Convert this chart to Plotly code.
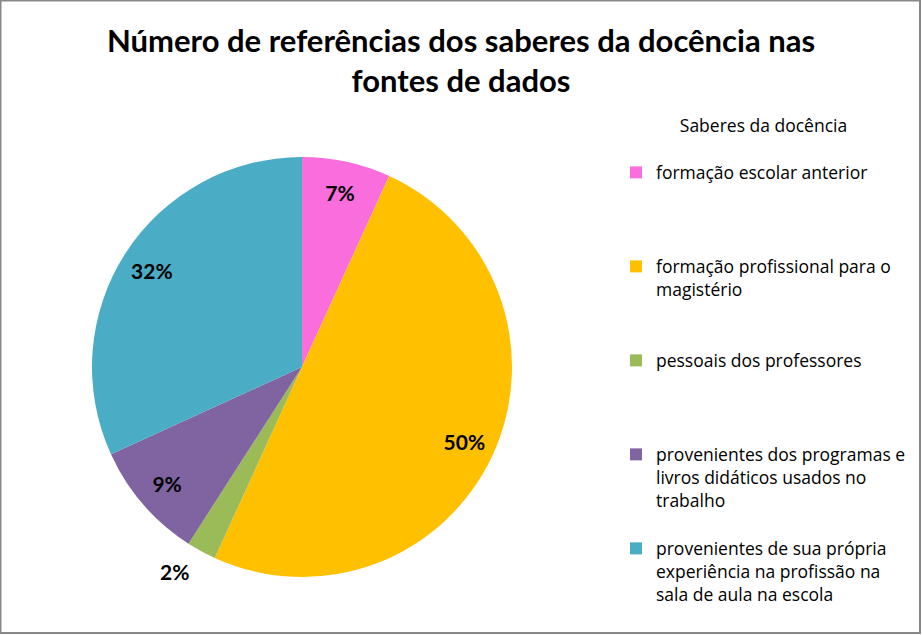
import plotly.graph_objects as go

# Data
categories = [
    "formação escolar anterior",
    "formação profissional para o<br>magistério",
    "pessoais dos professores",
    "provenientes dos programas e<br>livros didáticos usados no<br>trabalho",
    "provenientes de sua própria<br>experiência na profissão na<br>sala de aula na escola",
]
references = [3, 22, 1, 4, 14]
colors = ["#F96EDC", "#FFC000", "#9BBB59", "#8064A2", "#4BACC6"]
title_text = "Número de referências dos saberes da docência nas<br>fontes de dados"
legend_title = "Saberes da docência"
# which slices get their label just outside the rim (the rest sit inside)
outside = [False, False, True, False, False]

# pad legend labels to 4 lines each so items are evenly spaced (like the original)
LINES = 4
padded = [c + "<br> " * (LINES - (c.count("<br>") + 1)) for c in categories]
plain = [c.replace("<br>", " ") for c in categories]

W, H = 922, 635
TFONT = "Lato, sans-serif"
LFONT = "Open Sans, sans-serif"
CX, CY, R = 302, 367, 210
domain = dict(x=[(CX - R) / W, (CX + R) / W], y=[(H - CY - R) / H, (H - CY + R) / H])
R2 = 222
domain_out = dict(x=[(CX - R2) / W, (CX + R2) / W], y=[(H - CY - R2) / H, (H - CY + R2) / H])
PCT = "%{percent:.0%}"
label_font = dict(family=TFONT, size=21, color="black", weight="bold")
clear = ["rgba(0,0,0,0)"] * len(references)

# base pie: the slices and the legend
base = go.Pie(
    labels=padded,
    values=references,
    sort=False,
    direction="clockwise",
    rotation=0,
    marker=dict(colors=colors, line=dict(width=0)),
    textinfo="none",
    domain=domain,
    hovertemplate="%{label}: %{value} (%{percent:.0%})<extra></extra>",
)

# transparent ring on top carries the percentage labels near the rim
ring_in = go.Pie(
    labels=plain,
    values=references,
    sort=False,
    direction="clockwise",
    rotation=0,
    hole=0.7,
    marker=dict(colors=clear, line=dict(width=0)),
    texttemplate=["" if o else PCT for o in outside],
    textposition=["none" if o else "inside" for o in outside],
    insidetextorientation="horizontal",
    textfont=label_font,
    domain=domain,
    showlegend=False,
    hoverinfo="skip",
)

# slightly larger transparent pie whose outside label sits a bit further out
ring_out = go.Pie(
    labels=plain,
    values=references,
    sort=False,
    direction="clockwise",
    rotation=0,
    hole=0.95,
    marker=dict(colors=clear, line=dict(width=0)),
    texttemplate=[PCT if o else "" for o in outside],
    textposition=["outside" if o else "none" for o in outside],
    textfont=label_font,
    outsidetextfont=label_font,
    domain=domain_out,
    showlegend=False,
    hoverinfo="skip",
)

fig = go.Figure([base, ring_in, ring_out])

fig.update_layout(
    width=W,
    height=H,
    margin=dict(l=0, r=0, t=0, b=0),
    paper_bgcolor="white",
    font=dict(family=LFONT, color="black"),
    title=dict(
        text=title_text,
        x=0.5,
        xanchor="center",
        y=1 - 52 / H,
        yanchor="middle",
        yref="container",
        font=dict(family=TFONT, size=31, color="black", weight="bold"),
    ),
    legend=dict(
        x=616 / W,
        xanchor="left",
        y=(H - 109) / H,
        yanchor="top",
        valign="top",
        font=dict(family=LFONT, size=17.5, color="black"),
        title=dict(text=legend_title + "<br> ", side="top center",
                   font=dict(family=LFONT, size=17.5)),
        bgcolor="rgba(0,0,0,0)",
    ),
    shapes=[
        dict(
            type="rect",
            xref="paper",
            yref="paper",
            x0=0.5 / W,
            x1=920 / W,
            y0=(H - 633) / H,
            y1=(H - 0.5) / H,
            line=dict(color="#888888", width=2),
            fillcolor="rgba(0,0,0,0)",
            layer="above",
        )
    ],
)

fig.write_html("out.html", post_script="document.body.style.margin='0';",
               config={"displayModeBar": False})
